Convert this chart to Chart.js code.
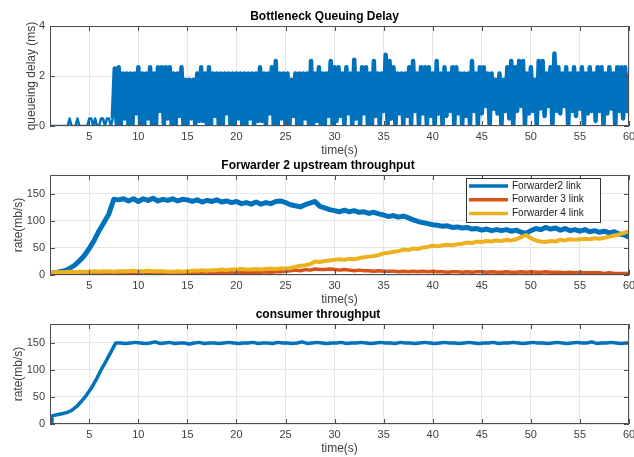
<!DOCTYPE html>
<html>
<head>
<meta charset="utf-8">
<script src="https://cdn.jsdelivr.net/npm/chart.js@4.4.0/dist/chart.umd.min.js"></script>
<style>
  html, body { margin: 0; padding: 0; background: #fff; width: 634px; height: 457px; overflow: hidden; position: relative; }
  canvas { position: absolute; left: 0; }
</style>
</head>
<body>
<canvas id="delayChart" width="660" height="160" style="top:0px"></canvas>
<canvas id="upstreamChart" width="660" height="160" style="top:149px"></canvas>
<canvas id="consumerChart" width="660" height="160" style="top:298px"></canvas>
<script>
// tick labels
const timeTicks = [5, 10, 15, 20, 25, 30, 35, 40, 45, 50, 55, 60];
const delayTicks = [0, 2, 4];
const rateTicks = [0, 50, 100, 150];

// queuing delay (ms), sampled every 0.2 s from t = 1 s
const delayStart = 1, delayStep = 0.2;
const delayValues = [
  0,0,0,0,0,0,0,0,0,0, 0.3,0,0,0,0.3,0,0,0,0,0, 0.3,0.3,0,0.3,0,0,0.3,0.3,0,0.3, 0.3,0,0.3,
  2.3,0.1, 2.35,0, 2.1,0.3, 2.1,0, 2.1,0, 2.1,0.5, 2.35,0, 2.1,0, 2.1,0.3, 2.35,0,
  2.1,0, 2.35,0.6, 2.35,0, 2.35,0.3, 2.35,0, 2.1,0, 2.1,0.4, 2.35,0, 1.85,0, 1.85,0.3,
  1.85,0, 2.1,0.2, 2.35,0.2, 2.1,0, 2.35,0, 2.1,0.4, 2.1,0, 2.1,0, 2.1,0.5, 2.1,0,
  2.1,0, 2.1,0.3, 2.1,0, 2.1,0, 2.1,0.3, 2.1,0, 2.1,0.2, 2.35,0.2, 2.1,0, 2.1,0.5,
  2.35,0, 2.6,0, 2.1,0.3, 2.1,0, 2.1,0, 1.85,0.4, 2.1,0, 2.1,0, 2.1,0.3, 2.1,0,
  2.6,0, 2.1,0.2, 2.35,0, 2.1,0, 2.1,0.4, 2.6,0, 2.35,0.2, 2.35,0.4, 2.1,0, 2.35,0.5,
  2.1,0, 2.65,0.3, 2.1,0, 2.35,0.5, 2.35,0, 2.1,0, 2.6,0.4, 2.1,0, 2.1,0.6, 2.85,0,
  2.6,0.3, 2.35,0, 2.1,0.5, 2.1,0, 2.1,0.4, 2.35,0, 2.6,0.6, 2.1,0, 2.35,0.5, 2.35,0,
  2.35,0.4, 2.1,0, 2.6,0.5, 2.1,0, 2.35,0.4, 2.1,0.6, 2.35,0, 2.35,0.5, 2.1,0, 2.1,0.4,
  2.1,0, 2.6,0.6, 2.1,0, 2.35,0.5, 2.35,0.8, 2.1,0, 2.1,0.7, 1.85,0.5, 2.1,0, 1.85,0.6,
  2.35,0.3, 2.6,0, 2.35,0.6, 2.6,0.8, 2.6,0, 2.1,0.5, 2.35,0.6, 1.85,0, 2.6,0.7, 2.6,0.4,
  2.1,0.8, 2.35,0, 2.9,0.6, 2.35,0.5, 2.1,0.8, 2.35,0, 2.1,0.6, 2.35,0.4, 2.1,0.7, 2.35,0,
  2.1,0.5, 2.35,0.6, 2.1,0.2, 2.35,0.6, 2.35,0, 2.1,0.5, 2.35,0.7, 2.1,0, 2.35,0.6, 2.35,0.3, 2.35,0.6,
  2.1
];

// upstream throughput (mb/s), every 0.5 s from t = 1 s
const upStart = 1, upStep = 0.5;
const forwarder2 = [
  3,4,6,8,12,18,26,36,49,64,
  82,97,113,140,139,141,137,141,136,141,
  138,142,137,140,138,141,137,140,139,136,
  139,135,138,136,139,135,137,134,136,132,
  134,131,135,131,134,132,136,137,134,130,
  128,126,130,133,136,127,124,121,119,117,
  120,117,119,116,117,114,116,113,111,108,
  110,107,109,106,102,99,97,95,93,92,
  90,91,88,89,87,88,85,86,83,85,
  82,84,82,84,81,83,79,77,82,86,
  84,88,85,87,83,86,82,84,81,84,
  80,82,79,81,78,80,76,74,70
];
const forwarder3 = [
  4,4,5,4,5,4,5,4,5,4,
  5,4,5,4,5,4,5,5,4,5,
  4,5,5,4,5,4,5,4,5,5,
  4,5,5,4,5,5,4,5,5,5,
  4,5,5,5,6,5,6,6,7,8,
  9,8,10,9,11,10,10,11,10,9,
  10,9,8,9,8,8,7,8,7,7,
  7,6,7,6,7,6,7,6,7,6,
  6,5,6,6,5,6,5,6,6,5,
  6,5,5,6,5,5,6,5,6,5,
  5,6,5,5,5,4,5,4,5,4,
  4,4,4,3,4,3,3,3,3
];
const forwarder4 = [
  4,5,5,5,6,5,6,6,6,7,
  6,7,7,6,7,7,7,8,7,7,
  8,7,7,7,6,6,7,6,7,8,
  8,9,8,9,9,10,9,10,10,11,
  10,10,11,10,11,12,11,12,12,13,
  15,17,18,20,25,24,26,27,28,29,
  28,30,29,31,33,34,35,37,40,41,
  43,44,47,46,49,48,51,52,54,53,
  55,56,55,57,58,60,59,62,61,63,
  62,64,63,65,64,66,70,74,68,64,
  62,61,63,62,65,64,66,65,66,67,
  66,68,67,69,71,73,75,78,81
];

// consumer throughput (mb/s), every 0.5 s from t = 1.2 s
const consumerStart = 1.2, consumerStep = 0.5;
const consumerValues = [
  15,17,19,21,25,32,42,53,66,82,100,116,133,150,
  150,149,150,151,150,149,150,152,149,150,
  151,149,150,150,148,150,151,149,150,150,
  149,150,151,150,149,150,150,151,149,150,
  150,149,151,150,150,149,150,152,149,150,
  151,150,149,150,150,151,149,150,150,151,
  150,149,150,151,150,150,149,151,150,150,
  149,150,151,150,149,150,151,150,150,149,
  150,151,150,149,150,150,151,149,150,150,
  151,150,149,150,151,150,150,149,150,151,
  150,149,150,151,150,150,152,149,150,150,
  151,150,149,150,150
];

const FONT = '"Liberation Sans", Arial, sans-serif';
const TEXT = '#404040';
const GRID = '#e6e6e6';
const BLUE = '#0072BD', RED = '#D95319', YELLOW = '#EDB120';

function toPoints(values, start, step) {
  return values.map((v, i) => ({ x: start + i * step, y: v }));
}

// matlab style box with inward ticks on all four sides
const boxPlugin = {
  id: 'boxPlugin',
  afterDatasetsDraw(chart) {
    const { ctx, chartArea: a, scales } = chart;
    ctx.save();
    ctx.strokeStyle = '#4d4d4d';
    ctx.lineWidth = 1;
    ctx.beginPath();
    ctx.rect(a.left + 0.5, a.top + 0.5, a.width - 1, a.height - 1);
    scales.x.ticks.forEach(t => {
      const px = Math.round(scales.x.getPixelForValue(t.value)) + 0.5;
      ctx.moveTo(px, a.bottom); ctx.lineTo(px, a.bottom - 5);
      ctx.moveTo(px, a.top); ctx.lineTo(px, a.top + 5);
    });
    scales.y.ticks.forEach(t => {
      const py = Math.round(scales.y.getPixelForValue(t.value)) + 0.5;
      ctx.moveTo(a.left, py); ctx.lineTo(a.left + 5, py);
      ctx.moveTo(a.right, py); ctx.lineTo(a.right - 5, py);
    });
    ctx.stroke();
    ctx.restore();
  }
};

const legendPlugin = {
  id: 'legendPlugin',
  afterDraw(chart) {
    const { ctx, chartArea: a } = chart;
    const left = a.right - 163, top = a.top + 3, w = 134, h = 44;
    ctx.save();
    ctx.fillStyle = '#fff';
    ctx.fillRect(left, top, w, h);
    ctx.strokeStyle = '#333';
    ctx.lineWidth = 1;
    ctx.strokeRect(left + 0.5, top + 0.5, w, h);
    ctx.font = '10px ' + FONT;
    ctx.textBaseline = 'middle';
    chart.data.datasets.forEach((ds, i) => {
      const yy = top + 8 + i * 13.7;
      ctx.strokeStyle = ds.borderColor;
      ctx.lineWidth = 3.5;
      ctx.beginPath();
      ctx.moveTo(left + 3, yy);
      ctx.lineTo(left + 42, yy);
      ctx.stroke();
      ctx.fillStyle = '#1a1a1a';
      ctx.fillText(ds.label, left + 46, yy);
    });
    ctx.restore();
  }
};

function panelOptions(title, yTitle, yMax, yTicks, padLeft) {
  return {
    responsive: false,
    animation: false,
    layout: { padding: { left: padLeft, right: 31, top: 0, bottom: 0 } },
    elements: { point: { radius: 0 }, line: { tension: 0, borderJoinStyle: 'round' } },
    plugins: {
      legend: { display: false },
      tooltip: { enabled: false },
      title: {
        display: true, text: title, color: '#000',
        font: { family: FONT, size: 12, weight: 'bold' },
        padding: { top: 9, bottom: 2.6 }
      }
    },
    scales: {
      x: {
        type: 'linear', min: 1, max: 60,
        afterBuildTicks: s => { s.ticks = timeTicks.map(v => ({ value: v })); },
        afterFit: s => { s.height = 34; },
        grid: { color: GRID, drawTicks: false },
        border: { display: false },
        ticks: { color: TEXT, font: { family: FONT, size: 11 }, padding: 4, autoSkip: false, maxRotation: 0 },
        title: { display: true, text: 'time(s)', color: TEXT, font: { family: FONT, size: 12 }, padding: { top: 0, bottom: 2 } }
      },
      y: {
        min: 0, max: yMax,
        afterBuildTicks: s => { s.ticks = yTicks.map(v => ({ value: v })); },
        afterFit: s => { s.width = 50 - padLeft; },
        grid: { color: GRID, drawTicks: false },
        border: { display: false },
        ticks: { color: TEXT, font: { family: FONT, size: 11 }, padding: 5 },
        title: { display: true, text: yTitle, color: TEXT, font: { family: FONT, size: 12 }, padding: { top: 4, bottom: 4 } }
      }
    }
  };
}

new Chart(document.getElementById('delayChart').getContext('2d'), {
  type: 'line',
  data: {
    datasets: [{
      label: 'queueing delay',
      data: toPoints(delayValues, delayStart, delayStep),
      borderColor: BLUE, borderWidth: 4.5, fill: false,
      // thinner stroke before the queue builds up
      segment: { borderWidth: c => (c.p1.parsed.x < 7.5 ? 2.5 : 4.5) }
    }]
  },
  options: panelOptions('Bottleneck Queuing Delay', 'queueing delay (ms)', 4, delayTicks, 20),
  plugins: [boxPlugin]
});

new Chart(document.getElementById('upstreamChart').getContext('2d'), {
  type: 'line',
  data: {
    datasets: [
      { label: 'Forwarder2 link', data: toPoints(forwarder2, upStart, upStep), borderColor: BLUE, borderWidth: 5, fill: false, order: 2 },
      { label: 'Forwarder 3 link', data: toPoints(forwarder3, upStart, upStep), borderColor: RED, borderWidth: 3.5, fill: false, order: 1 },
      { label: 'Forwarder 4 link', data: toPoints(forwarder4, upStart, upStep), borderColor: YELLOW, borderWidth: 4, fill: false, order: 0 }
    ]
  },
  options: panelOptions('Forwarder 2 upstream throughput', 'rate(mb/s)', 185, rateTicks, 7),
  plugins: [boxPlugin, legendPlugin]
});

const consumerPoints = [{ x: consumerStart, y: 0 }].concat(toPoints(consumerValues, consumerStart, consumerStep));
new Chart(document.getElementById('consumerChart').getContext('2d'), {
  type: 'line',
  data: {
    datasets: [{
      label: 'consumer',
      data: consumerPoints,
      borderColor: BLUE, borderWidth: 3.5, fill: false
    }]
  },
  options: panelOptions('consumer throughput', 'rate(mb/s)', 185, rateTicks, 7),
  plugins: [boxPlugin]
});
</script>
</body>
</html>
